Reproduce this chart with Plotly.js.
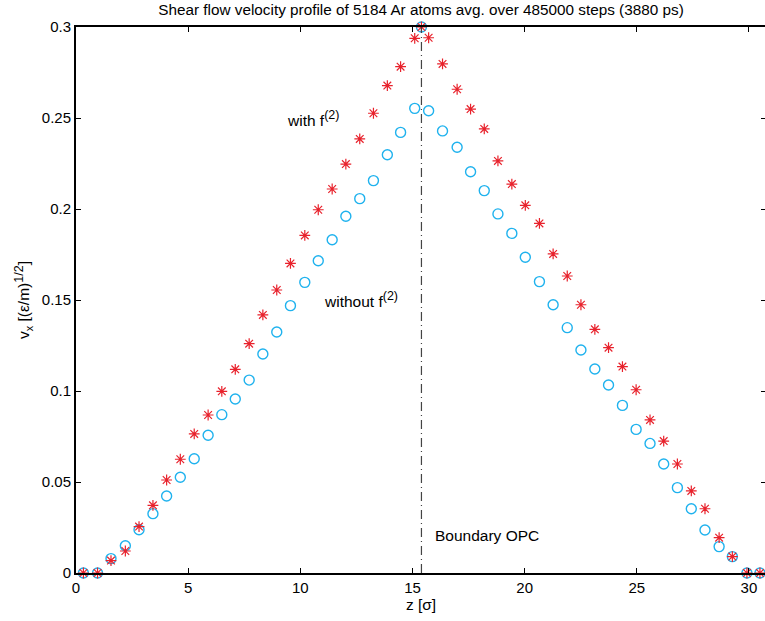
<!DOCTYPE html>
<html>
<head>
<meta charset="utf-8">
<script src="https://cdn.plot.ly/plotly-3.0.1.min.js"></script>
<style>html,body{margin:0;padding:0;overflow:hidden;background:#fff}#chart{width:766px;height:621px}</style>
</head>
<body>
<div id="chart"></div>
<script>
const zPos = [0.33,0.96,1.56,2.20,2.81,3.43,4.04,4.65,5.27,5.89,6.50,7.10,7.72,8.33,8.95,9.56,10.20,10.80,11.42,12.03,12.65,13.26,13.88,14.47,15.10,15.40,15.72,16.34,16.99,17.59,18.20,18.81,19.43,20.03,20.66,21.27,21.90,22.51,23.13,23.74,24.36,24.97,25.59,26.20,26.81,27.43,28.04,28.67,29.26,29.91,30.49];
const vWithout = [0,0,0.0079,0.0150,0.0238,0.0326,0.0423,0.0526,0.0628,0.0757,0.0870,0.0956,0.1060,0.1203,0.1324,0.1469,0.1597,0.1716,0.1831,0.1960,0.2057,0.2156,0.2298,0.2421,0.2553,0.300,0.2540,0.2429,0.2339,0.2205,0.2101,0.1973,0.1866,0.1735,0.1601,0.1474,0.1348,0.1225,0.1121,0.1033,0.0921,0.0789,0.0712,0.0599,0.0469,0.0353,0.0236,0.0145,0.0090,0,0];
const vWith = [0,0,0.0068,0.0121,0.0255,0.0372,0.0511,0.0625,0.0764,0.0868,0.0998,0.1119,0.1260,0.1418,0.1555,0.1701,0.1855,0.1996,0.2110,0.2247,0.2385,0.2526,0.2678,0.2782,0.2938,0.300,0.2941,0.2797,0.2658,0.2549,0.2440,0.2264,0.2137,0.2020,0.1921,0.1753,0.1632,0.1474,0.1339,0.1238,0.1134,0.1007,0.0841,0.0725,0.0599,0.0451,0.0353,0.0194,0.0090,0,0];
const boundaryZ = 15.4;
const xTicks = [0,5,10,15,20,25,30];
const yTicks = [0,0.05,0.1,0.15,0.2,0.25,0.3];
const yTickText = ['0','0.05','0.1','0.15','0.2','0.25','0.3'];

const font = 'Liberation Sans, Arial, Helvetica, sans-serif';
const sup = s => '<sup><span style="font-size:12.5px">' + s + '</span></sup>';
const traces = [
  {x: zPos, y: vWithout, type: 'scatter', mode: 'markers', name: 'without f(2)',
   marker: {symbol: 'circle-open', size: 10, color: '#1fb2ee', line: {width: 1.4, color: '#1fb2ee'}}, cliponaxis: false},
  {x: zPos, y: vWith, type: 'scatter', mode: 'markers', name: 'with f(2)',
   marker: {symbol: 'asterisk-open', size: 9, color: '#e8222c', line: {width: 1.2, color: '#e8222c'}}, cliponaxis: false}
];
const layout = {
  width: 766, height: 621,
  margin: {l: 76, r: 0, t: 27, b: 48},
  paper_bgcolor: '#fff', plot_bgcolor: '#fff',
  showlegend: false,
  font: {family: font, size: 15, color: '#000'},
  title: {text: 'Shear flow velocity profile of 5184 Ar atoms avg. over 485000 steps (3880 ps)',
          font: {family: font, size: 15.3, color: '#000'}, x: 0.5, xref: 'paper', xanchor: 'center', y: 0.985, yref: 'container', yanchor: 'middle'},
  xaxis: {range: [0, 30.76], tickvals: xTicks, ticktext: xTicks.map(String), ticks: 'inside', ticklen: 5, tickwidth: 1,
          tickcolor: '#000', showline: true, linecolor: '#000', linewidth: 2, mirror: 'ticks', showgrid: false, zeroline: false,
          title: {text: 'z [σ]', font: {family: font, size: 15.5}, standoff: 4}, tickfont: {family: font, size: 15}},
  yaxis: {range: [0, 0.3], tickvals: yTicks, ticktext: yTickText, ticks: 'inside', ticklen: 5, tickwidth: 1,
          tickcolor: '#000', showline: true, linecolor: '#000', linewidth: 2, mirror: 'ticks', showgrid: false, zeroline: false,
          title: {text: 'v<sub>x</sub> [(ε/m)' + sup('1/2') + ']', font: {family: font, size: 15.5}, standoff: 8}, tickfont: {family: font, size: 15}},
  shapes: [{type: 'line', xref: 'x', yref: 'y', x0: boundaryZ, x1: boundaryZ, y0: 0, y1: 0.3,
            line: {color: '#444', width: 1.2, dash: '9px,4px,1px,4px'}}],
  annotations: [
    {text: 'with f' + sup('(2)'), x: 10.55, y: 0.2495, xref: 'x', yref: 'y', showarrow: false, xanchor: 'center', font: {family: font, size: 15.5}},
    {text: 'without f' + sup('(2)'), x: 12.7, y: 0.1505, xref: 'x', yref: 'y', showarrow: false, xanchor: 'center', font: {family: font, size: 15.5}},
    {text: 'Boundary OPC', x: 15.9, y: 0.0205, xref: 'x', yref: 'y', showarrow: false, xanchor: 'left', font: {family: font, size: 15.5}}
  ]
};
Plotly.newPlot('chart', traces, layout, {displayModeBar: false, staticPlot: true});
</script>
</body>
</html>
